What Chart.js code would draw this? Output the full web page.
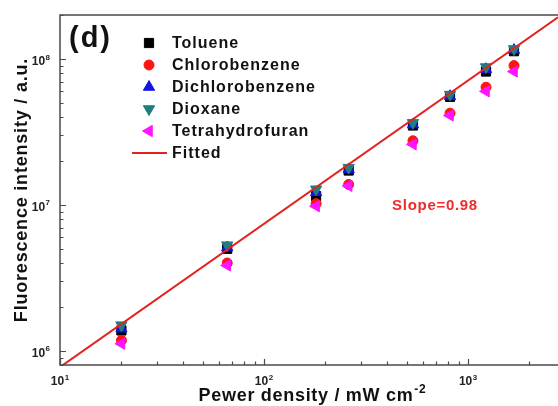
<!DOCTYPE html>
<html>
<head>
<meta charset="utf-8">
<script src="https://cdn.jsdelivr.net/npm/chart.js@4/dist/chart.umd.min.js"></script>
<style>
  html, body { margin: 0; padding: 0; background: #fff; overflow: hidden; }
</style>
</head>
<body>
<canvas id="c" width="558" height="406"></canvas>
<script>
// power density (mW cm-2) and fluorescence intensity (a.u.)
const power = [20, 66, 180, 260, 537, 816, 1225, 1680];
const toluene = [1.38e6, 5.0e6, 1.15e7, 1.72e7, 3.5e7, 5.5e7, 8.2e7, 1.13e8];
const chlorobenzene = [1.18e6, 4.0e6, 1.02e7, 1.38e7, 2.75e7, 4.25e7, 6.4e7, 9.0e7];
const dichlorobenzene = [1.42e6, 5.1e6, 1.22e7, 1.75e7, 3.55e7, 5.55e7, 8.5e7, 1.15e8];
const dioxane = [1.5e6, 5.3e6, 1.28e7, 1.8e7, 3.65e7, 5.7e7, 8.8e7, 1.17e8];
const thf = [1.12e6, 3.85e6, 9.8e6, 1.35e7, 2.6e7, 4.1e7, 6.0e7, 8.2e7];

// fitted line end points (slope 0.98 on log-log)
const fitPower = [10, 2760];
const fitIntensity = [7.74e5, 1.93e8];

// axis ranges and tick labels
const xRange = [10, 2760];
const yRange = [8e5, 2e8];
const xMajor = [10, 100, 1000];
const xExp = ['1', '2', '3'];
const yMajor = [1e6, 1e7, 1e8];
const yExp = ['6', '7', '8'];

const FONT = '"Liberation Sans", Arial, Helvetica, sans-serif';

const pts = (ys) => power.map((p, i) => ({ x: p, y: ys[i] }));

function marker(ds) {
  return {
    pointStyle: ds.pointStyle,
    radius: ds.pointRadius,
    rotation: ds.pointRotation || 0,
    borderWidth: 1,
  };
}

// simple fallback if helpers are not exposed
function drawMarker(ctx, opts, x, y) {
  if (window.Chart && Chart.helpers && Chart.helpers.drawPoint) {
    Chart.helpers.drawPoint(ctx, opts, x, y);
    return;
  }
  ctx.beginPath();
  ctx.arc(x, y, opts.radius, 0, Math.PI * 2);
  ctx.fill();
}

// "10" + superscript exponent
function powerLabel(ctx, base, exp, x, baseline, size, align) {
  ctx.font = `bold ${size}px ${FONT}`;
  const wb = ctx.measureText(base).width;
  ctx.font = `bold ${Math.round(size * 0.68)}px ${FONT}`;
  const we = ctx.measureText(exp).width;
  const w = wb + we + 0.5;
  let start = x;
  if (align === 'center') start = x - w / 2;
  if (align === 'right') start = x - w;
  ctx.textAlign = 'left';
  ctx.textBaseline = 'alphabetic';
  ctx.font = `bold ${size}px ${FONT}`;
  ctx.fillText(base, start, baseline);
  ctx.font = `bold ${Math.round(size * 0.68)}px ${FONT}`;
  ctx.fillText(exp, start + wb + 0.5, baseline - size * 0.45);
}

function logTicks(min, max) {
  const out = [];
  for (let d = Math.floor(Math.log10(min)); d <= Math.ceil(Math.log10(max)); d++) {
    for (let m = 1; m <= 9; m++) {
      const v = m * Math.pow(10, d);
      if (v >= min * 0.999 && v <= max * 1.001) out.push({ v, major: m === 1 });
    }
  }
  return out;
}

const decorPlugin = {
  id: 'decor',
  afterDraw(chart) {
    const { ctx, chartArea: a, scales } = chart;
    const xs = scales.x, ys = scales.y;
    ctx.save();

    // frame
    ctx.strokeStyle = '#4a4a4a';
    ctx.lineWidth = 1.5;
    ctx.beginPath();
    ctx.moveTo(a.right + 2, a.top);
    ctx.lineTo(a.left, a.top);
    ctx.lineTo(a.left, a.bottom);
    ctx.lineTo(a.right + 2, a.bottom);
    ctx.stroke();

    // inward ticks
    ctx.lineWidth = 1.2;
    ctx.beginPath();
    logTicks(xs.min, xs.max).forEach((t) => {
      const px = Math.round(xs.getPixelForValue(t.v)) + 0.5;
      ctx.moveTo(px, a.bottom);
      ctx.lineTo(px, a.bottom - (t.major ? 6 : 3.5));
    });
    logTicks(ys.min, ys.max).forEach((t) => {
      const py = Math.round(ys.getPixelForValue(t.v)) + 0.5;
      ctx.moveTo(a.left, py);
      ctx.lineTo(a.left + (t.major ? 6 : 3.5), py);
    });
    ctx.stroke();

    // tick labels
    ctx.fillStyle = '#222';
    xMajor.forEach((v, i) => {
      powerLabel(ctx, '10', xExp[i], xs.getPixelForValue(v), a.bottom + 20, 12, 'center');
    });
    yMajor.forEach((v, i) => {
      powerLabel(ctx, '10', yExp[i], a.left - 10, ys.getPixelForValue(v) + 6, 12, 'right');
    });

    // axis titles
    ctx.fillStyle = '#111';
    ctx.letterSpacing = '0.8px';
    ctx.save();
    ctx.translate(27, (a.top + a.bottom) / 2);
    ctx.rotate(-Math.PI / 2);
    ctx.font = `bold 18px ${FONT}`;
    ctx.textAlign = 'center';
    ctx.textBaseline = 'alphabetic';
    ctx.fillText('Fluorescence intensity / a.u.', 0, 0);
    ctx.restore();

    ctx.letterSpacing = '0.7px';
    ctx.font = `bold 18px ${FONT}`;
    const xt = 'Pewer density / mW cm';
    const wt = ctx.measureText(xt).width;
    ctx.font = `bold 12px ${FONT}`;
    const ws = ctx.measureText('-2').width;
    const xStart = 312 - (wt + ws) / 2;
    ctx.textAlign = 'left';
    ctx.textBaseline = 'alphabetic';
    ctx.font = `bold 18px ${FONT}`;
    ctx.fillText(xt, xStart, 401);
    ctx.font = `bold 12px ${FONT}`;
    ctx.fillText('-2', xStart + wt + 1, 393);

    // panel label
    ctx.letterSpacing = '2px';
    ctx.font = `bold 29px ${FONT}`;
    ctx.fillStyle = '#111';
    ctx.fillText('(d)', 69, 47);

    // slope annotation
    ctx.letterSpacing = '0.7px';
    ctx.font = `bold 15px ${FONT}`;
    ctx.fillStyle = '#ee2a2a';
    ctx.textAlign = 'center';
    ctx.textBaseline = 'middle';
    ctx.fillText('Slope=0.98', 435, 206);

    // legend
    ctx.letterSpacing = '1px';
    ctx.font = `bold 16px ${FONT}`;
    ctx.textAlign = 'left';
    ctx.textBaseline = 'middle';
    const order = [5, 4, 3, 2, 1, 0];
    order.forEach((di, row) => {
      const ds = chart.data.datasets[di];
      const yy = 43 + row * 22;
      if (ds.showLine) {
        ctx.strokeStyle = ds.borderColor;
        ctx.lineWidth = 2;
        ctx.beginPath();
        ctx.moveTo(132, yy);
        ctx.lineTo(167, yy);
        ctx.stroke();
      } else {
        ctx.fillStyle = ds.backgroundColor;
        ctx.strokeStyle = ds.borderColor;
        ctx.lineWidth = 1;
        drawMarker(ctx, marker(ds), 149, yy);
      }
      ctx.fillStyle = '#111';
      ctx.fillText(ds.label, 172, yy + 1);
    });

    ctx.restore();
  },
};

function scatterSet(label, color, data, style, radius, rotation, order) {
  return {
    label,
    data: pts(data),
    showLine: false,
    backgroundColor: color,
    borderColor: color,
    borderWidth: 1,
    pointStyle: style,
    pointRadius: radius,
    pointRotation: rotation,
    order,
  };
}

new Chart(document.getElementById('c'), {
  type: 'scatter',
  data: {
    datasets: [
      {
        label: 'Fitted',
        data: fitPower.map((p, i) => ({ x: p, y: fitIntensity[i] })),
        showLine: true,
        borderColor: '#e3211f',
        borderWidth: 2,
        pointRadius: 0,
        order: 0,
      },
      scatterSet('Tetrahydrofuran', '#ff14ff', thf, 'triangle', 6.5, 270, 1),
      scatterSet('Dioxane', '#1f7f80', dioxane, 'triangle', 6.5, 180, 2),
      scatterSet('Dichlorobenzene', '#1414e6', dichlorobenzene, 'triangle', 6.5, 0, 3),
      scatterSet('Chlorobenzene', '#ff1414', chlorobenzene, 'circle', 5, 0, 4),
      scatterSet('Toluene', '#000000', toluene, 'rect', 6.5, 0, 5),
    ],
  },
  options: {
    responsive: false,
    devicePixelRatio: 1,
    animation: false,
    layout: { autoPadding: false, padding: { left: 60, top: 15, right: 0, bottom: 41 } },
    plugins: {
      legend: { display: false },
      tooltip: { enabled: false },
    },
    scales: {
      x: { type: 'logarithmic', min: xRange[0], max: xRange[1], display: false },
      y: { type: 'logarithmic', min: yRange[0], max: yRange[1], display: false },
    },
  },
  plugins: [decorPlugin],
});
</script>
</body>
</html>
